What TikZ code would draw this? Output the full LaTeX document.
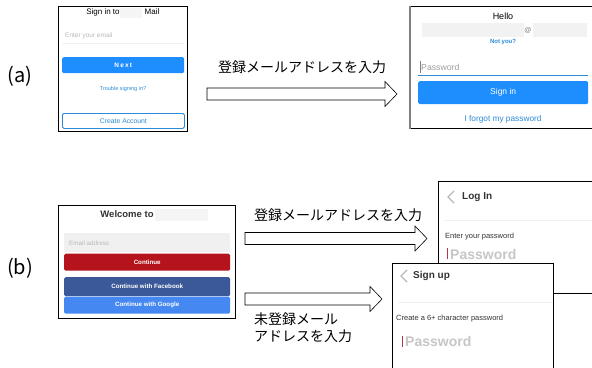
\documentclass[tikz,border=0pt]{standalone}
\usepackage{fontspec}
\setmainfont{Liberation Sans}
\newfontfamily\jpfont{Noto Sans CJK JP}
\usetikzlibrary{calc}

\definecolor{uiblue}{HTML}{1E8EFF}
\definecolor{linkblue}{HTML}{2B8BD8}
\definecolor{pinred}{HTML}{B5141C}
\definecolor{fbblue}{HTML}{3B5998}
\definecolor{gblue}{HTML}{4688F1}
\definecolor{darktxt}{HTML}{333333}
\definecolor{cursred}{HTML}{B8344A}

\newcommand{\ftsz}[1]{\fontsize{#1}{#1}\selectfont}

\tikzset{
 shot/.style={draw, fill=white, line width=0.8pt, inner sep=0, anchor=north west},
 btn/.style={inner sep=0, anchor=north west, rounded corners=1.5pt, text=white, font=\bfseries\ftsz{6.2}},
 field/.style={inner sep=0, anchor=north west, fill=gray!12},
 hint/.style={inner sep=0, anchor=west, text=gray!55},
 txt/.style={inner sep=0},
 jptext/.style={inner sep=0, font=\jpfont\ftsz{14}},
 chev/.style={gray!55, line width=1.1pt},
 sepline/.style={gray!12, line width=0.6pt},
 cursor/.style={cursred, line width=0.9pt}
}

\begin{document}
\begin{tikzpicture}[x=1pt,y=-1pt]

\newcommand{\fatarrow}[2] % tail, tip
{
 \draw[line width=0.6pt, fill=white] ($(#1)+(0,-6)$) -- ($(#2)+(-12,-6)$)
   -- ($(#2)+(-12,-12.5)$) -- (#2) -- ($(#2)+(-12,12.5)$)
   -- ($(#2)+(-12,6)$) -- ($(#1)+(0,6)$) -- cycle;
}

\clip (0,0) rectangle (592,367);

% (a)
\node[txt, font=\jpfont\ftsz{20}] (labA) at (20,76) {(a)};

\node[shot, minimum width=129, minimum height=125] (shotSignA) at (58,6) {};
\node[txt, font=\ftsz{8}] (signinTxt) at (103,12) {Sign in to};
\fill[gray!8] (120,8) rectangle (142,18);
\node[txt, font=\ftsz{8}] (mailTxt) at (152,12) {Mail};
\node[hint, font=\ftsz{6.5}] (emailHint) at (65,36) {Enter your email};
\draw[sepline] (62,43) -- (184,43);
\node[btn, fill=uiblue, minimum width=122, minimum height=16, font=\bfseries\ftsz{6.5}\addfontfeature{LetterSpace=18}] (nextBtn) at (62,57) {Next};
\node[txt, font=\ftsz{5.5}, text=linkblue] (troubleTxt) at (123,89) {Trouble signing in?};
\node[btn, draw=linkblue, line width=0.8pt, fill=white, text=linkblue, font=\ftsz{6.8},
  minimum width=122, minimum height=15] (createBtn) at (62,113) {Create Account};

\node[shot, minimum width=190, minimum height=122] (shotPwdA) at (410,6) {};
\draw[gray, line width=2pt] (shotPwdA.north west) -- (shotPwdA.south west);
\node[txt, font=\ftsz{9}] (helloTxt) at (503,16) {Hello};
\fill[gray!10] (422,23) rectangle (524,37);
\fill[gray!10] (533,23) rectangle (587,37);
\node[txt, font=\ftsz{7}, text=gray] (atTxt) at (528,30) {@};
\node[txt, font=\bfseries\ftsz{6}, text=linkblue] (notyouTxt) at (503,42) {Not you?};
\draw[gray, line width=0.6pt] (420,61) -- (420,73);
\node[hint, font=\ftsz{8.7}, text=gray!75] (pwdHintA) at (421,67) {Password};
\draw[linkblue, line width=0.8pt] (418,75) -- (588,75);
\node[btn, fill=uiblue, minimum width=170, minimum height=23, font=\ftsz{8.5}] (signinBtn) at (418,81) {Sign in};
\node[txt, font=\ftsz{8.3}, text=linkblue] (forgotTxt) at (503,119) {I forgot my password};

\coordinate (tailA) at (207,94);
\coordinate (tipA) at (397,94);
\fatarrow{tailA}{tipA}
\node[jptext] (arrTxtA) at (302,67) {登録メールアドレスを入力};

% (b)
\node[txt, font=\jpfont\ftsz{20}] (labB) at (20,268) {(b)};

\node[shot, minimum width=177, minimum height=113] (shotWelcome) at (58,205) {};
\node[txt, font=\bfseries\ftsz{9.5}, text=darktxt] (welcomeTxt) at (127,214) {Welcome to};
\fill[gray!8] (155,209) rectangle (208,221);
\node[field, minimum width=166, minimum height=19] (emailField) at (64,233) {};
\node[hint, font=\ftsz{6.3}] (emailHintB) at (69,243) {Email address};
\node[btn, fill=pinred, minimum width=166, minimum height=17] (contBtn) at (64,253.5) {Continue};
\node[btn, fill=fbblue, minimum width=166, minimum height=19] (fbBtn) at (64,277) {Continue with Facebook};
\node[btn, fill=gblue, minimum width=166, minimum height=17] (googleBtn) at (64,296.5) {Continue with Google};

\node[shot, minimum width=170, minimum height=112] (shotLogin) at (438,181) {};
\draw[chev] (454,191) -- (448,197) -- (454,203);
\node[txt, anchor=west, font=\bfseries\ftsz{10}, text=darktxt] (loginTxt) at (462,197) {Log In};
\draw[sepline] (445,220) -- (600,220);
\node[txt, anchor=west, font=\ftsz{7.5}, text=darktxt] (enterPwdTxt) at (445,237) {Enter your password};
\draw[cursor] (447,248) -- (447,259);
\node[txt, anchor=west, font=\bfseries\ftsz{14}, text=gray!45] (pwdHintB) at (450,254) {Password};

\node[shot, minimum width=161, minimum height=120] (shotSignup) at (392,263) {};
\draw[chev] (407,270) -- (401,276) -- (407,282);
\node[txt, anchor=west, font=\bfseries\ftsz{10}, text=darktxt] (signupTxt) at (413,276) {Sign up};
\draw[sepline] (398,302) -- (553,302);
\node[txt, anchor=west, font=\ftsz{7.5}, text=darktxt] (createPwdTxt) at (396,319) {Create a 6+ character password};
\draw[cursor] (402,336) -- (402,347);
\node[txt, anchor=west, font=\bfseries\ftsz{14}, text=gray!45] (pwdHintC) at (405,341) {Password};

\coordinate (tailB) at (245,238.5);
\coordinate (tipB) at (427,238.5);
\fatarrow{tailB}{tipB}
\node[jptext] (arrTxtB) at (338,215) {登録メールアドレスを入力};

\coordinate (tailC) at (245,299);
\coordinate (tipC) at (382,299);
\fatarrow{tailC}{tipC}
\node[jptext, anchor=north west, align=left, font=\jpfont\fontsize{14}{17}\selectfont] (arrTxtC) at (254,313) {未登録メール\\アドレスを入力};

\end{tikzpicture}
\end{document}
